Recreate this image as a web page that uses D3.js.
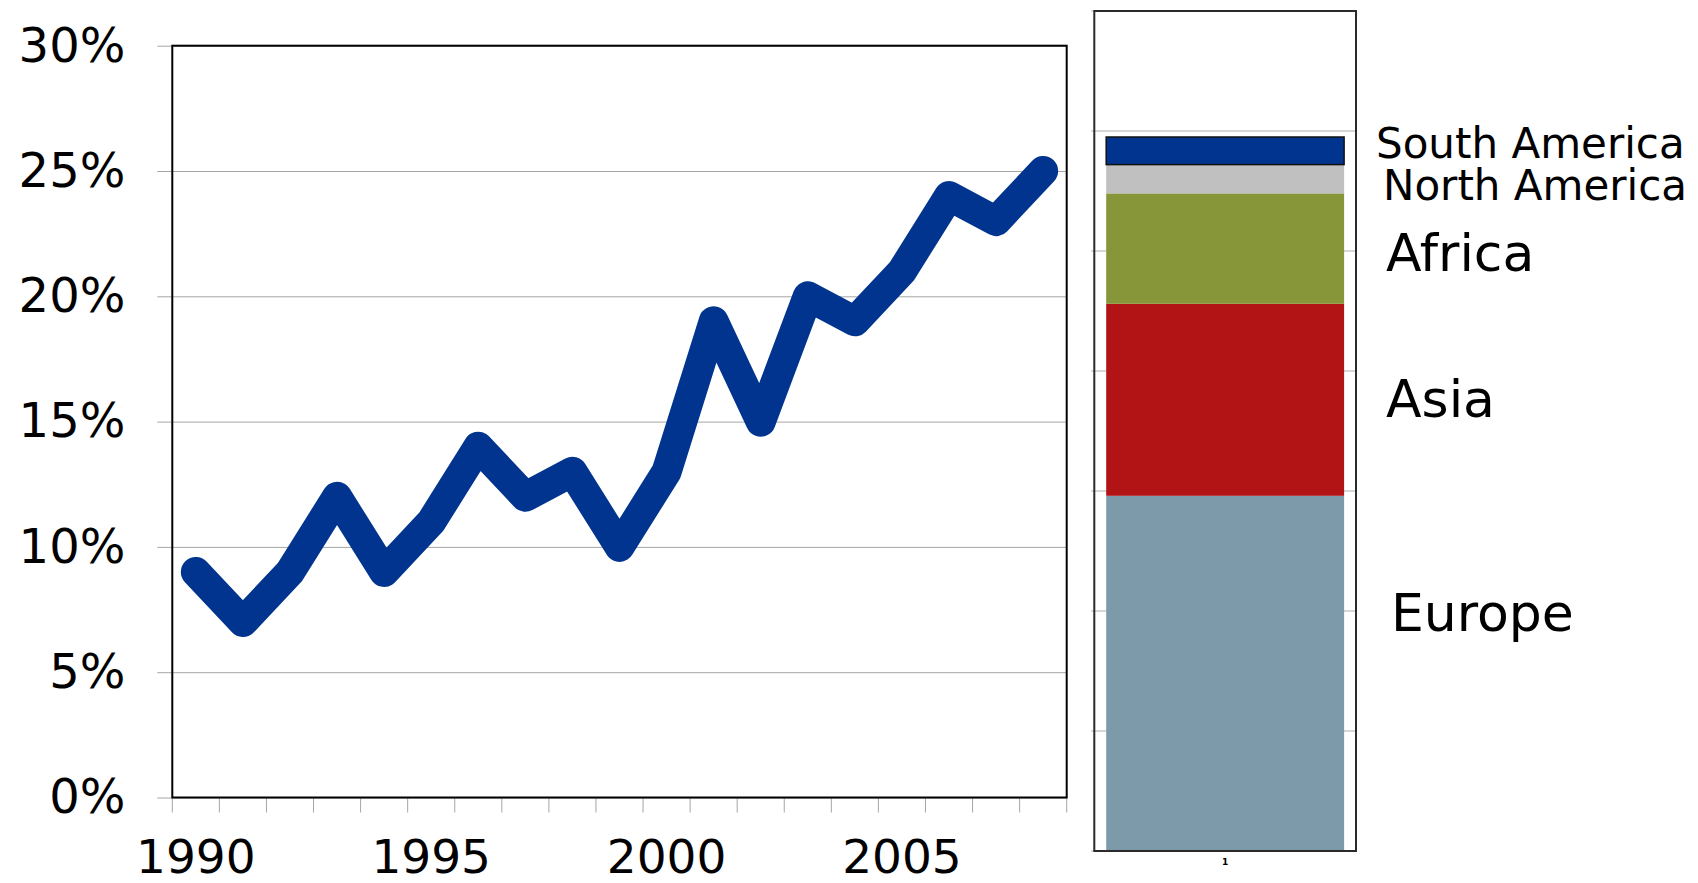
<!DOCTYPE html>
<html>
<head>
<meta charset="utf-8">
<script src="https://cdn.jsdelivr.net/npm/d3@7/dist/d3.min.js"></script>
<style>
  body { margin: 0; background: #fff; }
  svg { display: block; font-family: "DejaVu Sans", Verdana, sans-serif; }
</style>
</head>
<body>
<svg id="chart" width="1698" height="883"></svg>
<script>
(function(d3) {
  'use strict';

  // share per year (line chart)
  var years = [1990, 1991, 1992, 1993, 1994, 1995, 1996, 1997, 1998, 1999,
               2000, 2001, 2002, 2003, 2004, 2005, 2006, 2007, 2008];
  var shares = [0.09, 0.07, 0.09, 0.12, 0.09, 0.11, 0.14, 0.12, 0.13, 0.10,
                0.13, 0.19, 0.15, 0.20, 0.19, 0.21, 0.24, 0.23, 0.25];
  var yTicks = [0, 0.05, 0.10, 0.15, 0.20, 0.25, 0.30];
  var yearLabels = [1990, 1995, 2000, 2005];

  // stacked bar by region (bottom to top)
  var regions = ['Europe', 'Asia', 'Africa', 'North America', 'South America'];
  var regionValues = [2.96, 1.60, 0.92, 0.24, 0.23];
  var regionColors = ['#7d9aab', '#b21416', '#88963a', '#c0c0c0', '#00348f'];
  var barCategory = ['1'];
  var barTicks = [0, 1, 2, 3, 4, 5, 6, 7];

  var svg = d3.select('#chart');

  // ---- left: line chart ----
  var plot = { left: 172.3, right: 1066.7, top: 45.7, bottom: 797.5 };

  var x = d3.scaleBand().domain(years).range([plot.left, plot.right]);
  var y = d3.scaleLinear().domain([0, 0.30]).range([plot.bottom, plot.top]);

  var yAxis = svg.append('g')
    .attr('transform', 'translate(' + plot.left + ',0)')
    .call(d3.axisLeft(y)
      .tickValues(yTicks)
      .tickFormat(d3.format('.0%'))
      .tickSizeInner(-(plot.right - plot.left))
      .tickSizeOuter(0)
      .tickPadding(47));
  yAxis.select('.domain').remove();
  yAxis.selectAll('line').attr('x1', -15).attr('stroke', '#a6a6a6');
  yAxis.selectAll('text')
    .attr('font-size', 48)
    .attr('font-family', '"DejaVu Sans", Verdana, sans-serif')
    .attr('fill', '#000');

  // category boundary ticks
  var bounds = years.map(function(d) { return x(d); }).concat([plot.right]);
  svg.append('g').selectAll('line').data(bounds).enter().append('line')
    .attr('x1', function(d) { return d; })
    .attr('x2', function(d) { return d; })
    .attr('y1', plot.bottom)
    .attr('y2', plot.bottom + 15)
    .attr('stroke', '#a6a6a6');

  var xAxis = svg.append('g')
    .attr('transform', 'translate(0,' + plot.bottom + ')')
    .call(d3.axisBottom(x).tickValues(yearLabels).tickSize(0).tickPadding(42));
  xAxis.select('.domain').remove();
  xAxis.selectAll('text')
    .attr('font-size', 47)
    .attr('font-family', '"DejaVu Sans", Verdana, sans-serif')
    .attr('fill', '#000');

  svg.append('rect')
    .attr('x', plot.left).attr('y', plot.top)
    .attr('width', plot.right - plot.left)
    .attr('height', plot.bottom - plot.top)
    .attr('fill', 'none')
    .attr('stroke', '#000')
    .attr('stroke-width', 2);

  var line = d3.line()
    .x(function(d, i) { return x(years[i]) + x.bandwidth() / 2; })
    .y(function(d) { return y(d); });

  svg.append('path')
    .datum(shares)
    .attr('d', line)
    .attr('fill', 'none')
    .attr('stroke', '#00348f')
    .attr('stroke-width', 30)
    .attr('stroke-linejoin', 'round')
    .attr('stroke-linecap', 'round');

  // ---- right: stacked bar ----
  var box = { left: 1094.3, right: 1356, top: 11, bottom: 851 };

  var bx = d3.scaleBand().domain(barCategory).range([box.left, box.right]).paddingOuter(0.05);
  var by = d3.scaleLinear().domain([0, 7]).range([box.bottom, box.top]);

  svg.append('g').selectAll('line').data(barTicks).enter().append('line')
    .attr('x1', box.left - 3)
    .attr('x2', box.right)
    .attr('y1', function(d) { return by(d); })
    .attr('y2', function(d) { return by(d); })
    .attr('stroke', '#c8c8c8')
    .attr('stroke-width', 1.5);

  var row = {};
  regions.forEach(function(r, i) { row[r] = regionValues[i]; });
  var stacked = d3.stack().keys(regions)([row]);

  svg.append('g').selectAll('rect').data(stacked).enter().append('rect')
    .attr('x', bx('1'))
    .attr('width', bx.bandwidth())
    .attr('y', function(s) { return by(s[0][1]); })
    .attr('height', function(s) { return by(s[0][0]) - by(s[0][1]); })
    .attr('fill', function(s, i) { return regionColors[i]; })
    .attr('stroke', function(s) { return s.key === 'South America' ? '#111' : 'none'; })
    .attr('stroke-width', 1.5);

  svg.append('rect')
    .attr('x', box.left).attr('y', box.top)
    .attr('width', box.right - box.left)
    .attr('height', box.bottom - box.top)
    .attr('fill', 'none')
    .attr('stroke', '#2a2a2a')
    .attr('stroke-width', 2);

  svg.append('text')
    .attr('x', bx('1') + bx.bandwidth() / 2)
    .attr('y', box.bottom + 14)
    .attr('text-anchor', 'middle')
    .attr('font-size', 9)
    .attr('font-weight', 'bold')
    .text(barCategory[0]);

  // region labels beside the bar
  var labelStyle = {
    'Europe':        { x: 1391, size: 52, dy: -61 },
    'Asia':          { x: 1386, size: 52, dy: -1 },
    'Africa':        { x: 1386, size: 52, dy: 4 },
    'North America': { x: 1383, size: 42, dy: 6 },
    'South America': { x: 1376, size: 42, dy: -8 }
  };

  svg.append('g').selectAll('text').data(stacked).enter().append('text')
    .attr('x', function(s) { return labelStyle[s.key].x; })
    .attr('y', function(s) { return by((s[0][0] + s[0][1]) / 2) + labelStyle[s.key].dy; })
    .attr('dy', '0.35em')
    .attr('font-size', function(s) { return labelStyle[s.key].size; })
    .attr('fill', '#000')
    .text(function(s) { return s.key; });
}(d3));
</script>
</body>
</html>
